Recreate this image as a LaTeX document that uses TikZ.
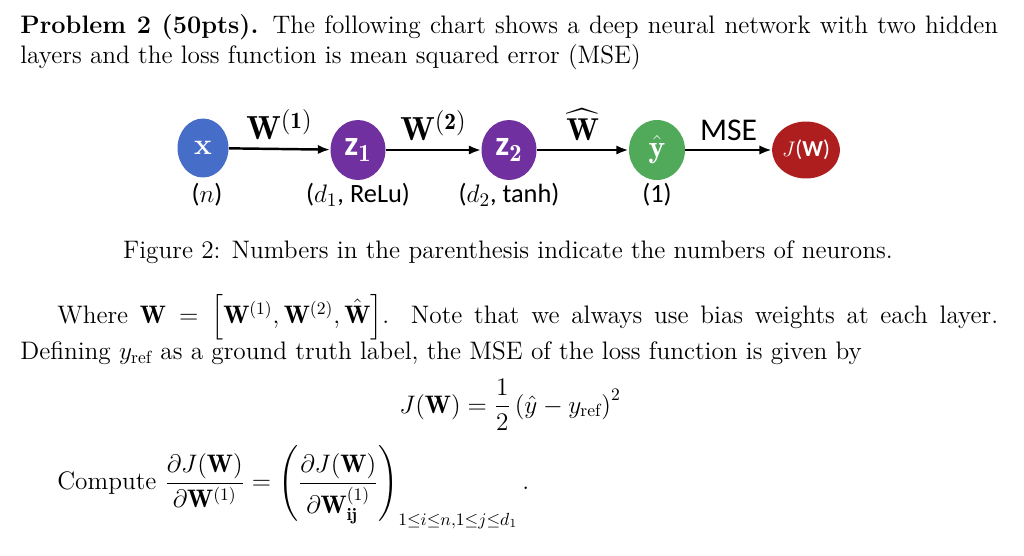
\documentclass[tikz,border=0pt]{standalone}
\usepackage{amsmath,amssymb}
\usepackage{fontspec}
\newfontfamily\carl{Carlito}
\usetikzlibrary{shapes.geometric,arrows.meta}
\begin{document}
\begin{tikzpicture}[x=0.02cm,y=-0.02cm,
  arr/.style={-{Latex[length=7pt]},line width=1.4pt},
  lab/.style={font=\carl\fontsize{15}{17}\selectfont},
  tx/.style={font=\fontsize{14.4}{17}\selectfont,inner sep=0pt}]
\useasboundingbox (0,0) rectangle (1024,555);
\node[tx,anchor=north west,text width=19.56cm,align=justify] (t) at (20,14)
 {\textbf{Problem 2 (50pts).} The following chart shows a deep neural network with two hidden\linebreak layers and the loss function is mean squared error (MSE)};
\node[ellipse,minimum width=1.02cm,minimum height=1.18cm,fill={rgb,255:red,70;green,110;blue,200},text=white,font=\bfseries\fontsize{17}{17}\selectfont] (x) at (203,148) {x};
\node[ellipse,minimum width=1.0cm,minimum height=1.2cm,fill={rgb,255:red,112;green,48;blue,160},text=white,font=\carl\bfseries\fontsize{20}{20}\selectfont] (z1) at (358,150) {z$_{\mathbf 1}$};
\node[ellipse,minimum width=1.0cm,minimum height=1.2cm,fill={rgb,255:red,112;green,48;blue,160},text=white,font=\carl\bfseries\fontsize{20}{20}\selectfont] (z2) at (509,150) {z$_{\mathbf 2}$};
\node[ellipse,minimum width=1.12cm,minimum height=1.2cm,fill={rgb,255:red,80;green,170;blue,90},text=white,font=\bfseries\fontsize{18}{18}\selectfont] (y) at (657,150) {$\hat{\mathbf y}$};
\node[ellipse,minimum width=1.2cm,minimum height=1.14cm,inner sep=0pt,fill={rgb,255:red,175;green,30;blue,30},text=white,font=\carl\fontsize{13}{13}\selectfont] (J) at (806,150) {$J$(\textbf{W})};
\draw[arr] (x) -- node[above=1pt,font=\fontsize{19}{19}\selectfont]{$\mathbf W^{(\mathbf 1)}$} (z1);
\draw[arr] (z1) -- node[above=1pt,font=\fontsize{19}{19}\selectfont]{$\mathbf W^{(\mathbf 2)}$} (z2);
\draw[arr] (z2) -- node[above=1pt,font=\fontsize{18}{18}\selectfont]{$\widehat{\mathbf W}$} (y);
\draw[arr] (y) -- node[above=1pt,font=\carl\fontsize{18}{18}\selectfont]{MSE} (J);
\node[lab] (l1) at (207,195) {($n$)};
\node[lab] (l2) at (358,195) {($d_1$, ReLu)};
\node[lab] (l3) at (509,195) {($d_2$, tanh)};
\node[lab] (l4) at (657,195) {(1)};
\node[tx] (cap) at (508,252) {Figure 2: Numbers in the parenthesis indicate the numbers of neurons.};
\node[tx,anchor=north west,text width=19.56cm,align=justify] (p) at (20,294)
 {\hspace*{0.74cm}Where $\mathbf W=\left[\mathbf W^{(1)},\mathbf W^{(2)},\hat{\mathbf W}\right]$. Note that we always use bias weights at each layer.\linebreak Defining $y_{\mathrm{ref}}$ as a ground truth label, the MSE of the loss function is given by};
\node[tx] (eq) at (510,405) {$\displaystyle J(\mathbf W)=\frac12\left(\hat y-y_{\mathrm{ref}}\right)^2$};
\node[tx,anchor=west] (c) at (57,487) {Compute $\displaystyle\frac{\partial J(\mathbf W)}{\partial\mathbf W^{(1)}}=\left(\frac{\partial J(\mathbf W)}{\partial\mathbf W^{(1)}_{\mathbf{ij}}}\right)_{1\le i\le n,1\le j\le d_1}.$};
\end{tikzpicture}
\end{document}
